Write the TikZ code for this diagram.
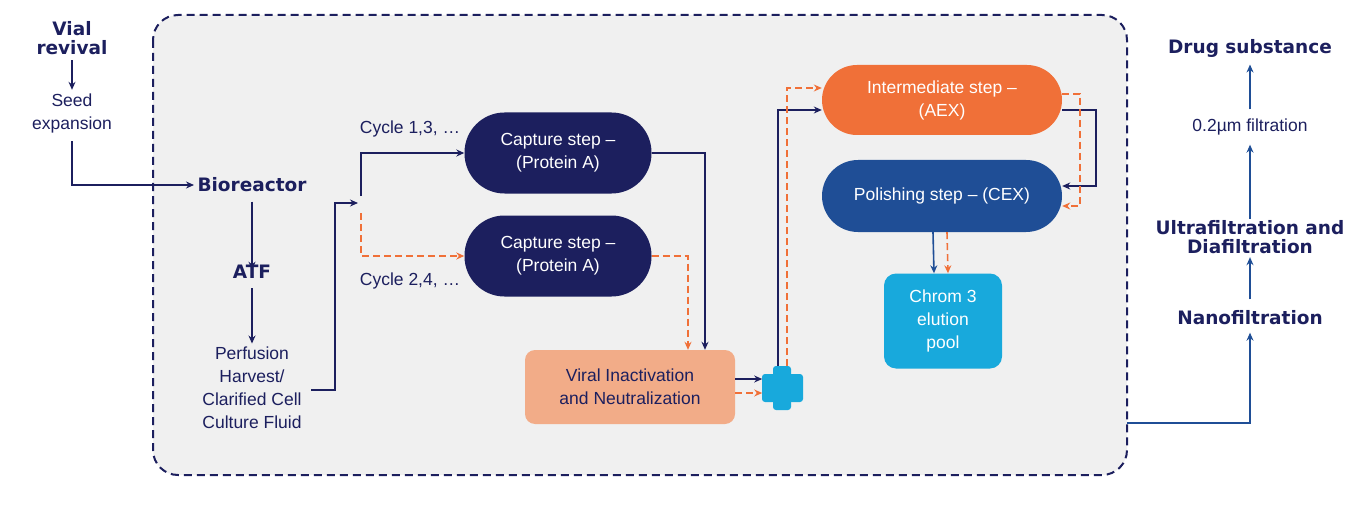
\documentclass[tikz,border=0pt]{standalone}
\usepackage{fontspec}
\setmainfont{Liberation Sans}
\newfontfamily\headfont{DejaVu Sans}[BoldFont={DejaVu Sans Bold}]
\usetikzlibrary{arrows.meta,positioning}
\definecolor{navy}{HTML}{1C1F5E}
\definecolor{polblue}{HTML}{1F4E96}
\definecolor{aexorange}{HTML}{F07038}
\definecolor{viralpeach}{HTML}{F2AC88}
\definecolor{chromcyan}{HTML}{18A9DC}
\definecolor{flow}{HTML}{F07038}
\definecolor{boxgray}{HTML}{F0F0F0}
\tikzset{
    head/.style={font=\headfont\bfseries\fontsize{18.5}{23}\selectfont, text=navy, align=center},
    plain/.style={font=\fontsize{17.5}{23}\selectfont, text=navy, align=center},
    pill/.style={font=\fontsize{17.5}{23}\selectfont, text=white, align=center, rounded corners=40pt, minimum width=187pt, minimum height=81pt},
    flowA/.style={draw=navy, line width=1.6pt, -{Stealth[length=8pt,width=7pt]}},
    flowB/.style={draw=flow, line width=1.6pt, dash pattern=on 7pt off 4pt, -{Stealth[length=8pt,width=7pt]}},
    plainline/.style={draw=navy, line width=1.6pt},
}
\begin{document}
\begin{tikzpicture}[x=1pt,y=-1pt]
    \useasboundingbox (0,0) rectangle (1363,508);
    % process frame
    \draw[navy, fill=boxgray, line width=2pt, dash pattern=on 8pt off 5pt, rounded corners=25pt] (153,15) rectangle (1127,475);
    % upstream
    \node[head] (vial) at (72,38) {Vial\\[-4pt]revival};
    \node[plain] (seed) at (72,113) {Seed\\expansion};
    \node[head] (bio) at (252,185) {Bioreactor};
    \node[head] (atf) at (252,272) {ATF};
    \node[plain] (harv) at (252,388) {Perfusion\\Harvest/\\Clarified Cell\\Culture Fluid};
    \coordinate (fork) at (361,203);
    \node[plain] (cyc1) at (410,129) {Cycle 1,3, \ldots};
    \node[plain] (cyc2) at (410,281) {Cycle 2,4, \ldots};
    % chromatography
    \node[pill, fill=navy] (capA) at (558,153) {Capture step --\\(Protein A)};
    \node[pill, fill=navy] (capB) at (558,256) {Capture step --\\(Protein A)};
    \node[plain, fill=viralpeach, rounded corners=10pt, minimum width=210pt, minimum height=74pt] (vin) at (630,387) {Viral Inactivation\\and Neutralization};
    \fill[chromcyan, rounded corners=3pt] (773,366) rectangle (791,410);
    \fill[chromcyan, rounded corners=3pt] (762,374) rectangle (803,402);
    \coordinate (mix) at (782,388);
    \node[pill, fill=aexorange, minimum width=240pt, minimum height=70pt, rounded corners=35pt] (aex) at (942,100) {Intermediate step --\\(AEX)};
    \node[pill, fill=polblue, minimum width=240pt, minimum height=72pt, rounded corners=36pt] (cex) at (942,196) {Polishing step -- (CEX)};
    \node[pill, fill=chromcyan, rounded corners=12pt, minimum width=118pt, minimum height=95pt] (pool) at (943,321) {Chrom 3\\elution\\pool};
    % downstream
    \node[head] (nano) at (1250,318) {Nanofiltration};
    \node[head] (ufdf) at (1250,237) {Ultrafiltration and\\[-4pt]Diafiltration};
    \node[plain] (filt) at (1250,127) {0.2\textmu m filtration};
    \node[head] (ds) at (1250,48) {Drug substance};
    % connectors
    \draw[flowA] (vial.south) ++(0,2) -- (seed.north);
    \draw[flowA] (seed.south) ++(0,5) |- (bio.west);
    \draw[flowA] (bio.south) ++(0,6) -- ([yshift=-8pt]atf.north);
    \draw[flowA] (atf.south) ++(0,6) -- (harv.north);
    \draw[flowA] ([xshift=6pt]harv.east |- 0,390) -| (335,203) -- ([xshift=-3pt]fork);
    \draw[flowA] (361,196) |- (capA.west);
    \draw[flowB] (361,213) |- (capB.west);
    \draw[flowA] (capA.east) -| ([xshift=75pt]vin.north);
    \draw[flowB] (capB.east) -| ([xshift=58pt]vin.north);
    \draw[flowB] ([yshift=-6pt]vin.east) -- ++(27,0);
    \draw[flowA] ([yshift=8pt]vin.east) -- ++(27,0);
    \draw[flowA] ([xshift=-4pt]mix |- 0,366) |- ([yshift=-10pt]aex.west);
    \draw[flowB] ([xshift=5pt]mix |- 0,366) |- ([yshift=12pt]aex.west);
    \draw[flowA] ([yshift=-10pt]aex.east) -- ++(34,0) |- ([yshift=10pt]cex.east);
    \draw[flowB] ([yshift=6pt]aex.east) -- ++(18,0) |- ([yshift=-10pt]cex.east);
    \draw[flowA, draw=polblue] ([xshift=-9pt]cex.south) -- ([xshift=-9pt]pool.north);
    \draw[flowB] ([xshift=5pt]cex.south) -- ([xshift=5pt]pool.north);
    \draw[flowA, draw=polblue] (1127,423) -| ([yshift=-4pt]nano.south);
    \draw[flowA, draw=polblue] ([yshift=8pt]nano.north) -- (ufdf.south);
    \draw[flowA, draw=polblue] ([yshift=-2pt]ufdf.north) -- ([yshift=-6pt]filt.south);
    \draw[flowA, draw=polblue] ([yshift=6pt]filt.north) -- ([yshift=-4pt]ds.south);
\end{tikzpicture}
\end{document}
